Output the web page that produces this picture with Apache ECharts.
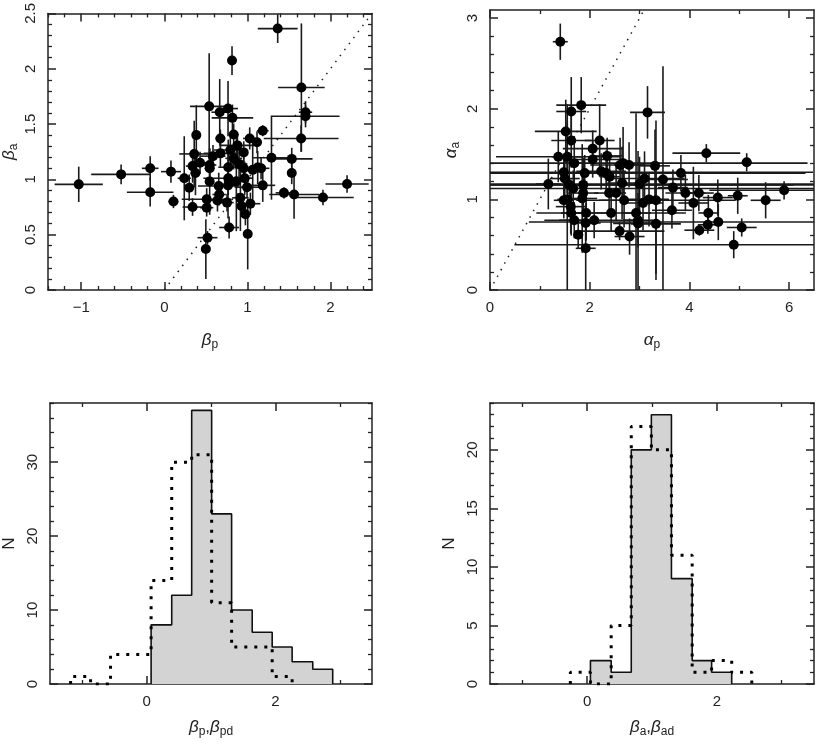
<!DOCTYPE html>
<html><head><meta charset="utf-8">
<script src="https://cdn.jsdelivr.net/npm/echarts@6/dist/echarts.min.js"></script>
<style>html,body{margin:0;padding:0;background:#fff}#c{width:817px;height:746px}</style>
</head><body><div id="c"></div>
<script>
// ---- Top-left: beta_p vs beta_a ----
const bpX = [-1.03,-0.52,-0.17,-0.17,0.08,0.11,0.24,0.30,0.34,0.385,
  0.36,0.34,0.375,0.43,0.54,0.546,0.546,0.546,0.586,0.51,
  0.51,0.52,0.50,0.667,0.675,0.675,0.655,0.66,0.64,0.767,
  0.82,0.795,0.77,0.77,0.767,0.755,0.78,0.815,0.835,0.835,
  0.88,0.867,0.9,0.956,0.956,0.968,0.996,0.916,0.928,0.976,
  1.004,1.028,1.036,1.064,1.116,1.124,1.165,1.185,1.185,1.29,
  1.365,1.44,1.534,1.534,1.562,1.65,1.647,1.70,1.70,1.91,2.20];
const bpY = [0.955,1.045,1.10,0.884,1.07,0.80,1.01,0.925,0.75,1.40,
  1.23,1.12,1.057,1.15,1.66,1.13,1.10,0.98,1.21,0.82,
  0.744,0.473,0.37,1.607,1.37,1.235,0.94,0.863,0.81,1.64,
  1.556,1.265,1.11,1.01,0.946,0.79,0.565,2.074,1.405,1.19,
  1.307,0.982,1.14,1.244,1.10,1.01,0.929,0.833,0.76,0.685,
  0.506,1.37,0.78,1.086,1.336,1.107,1.10,1.44,0.946,1.196,
  2.363,0.878,1.057,1.185,0.863,1.83,1.37,1.607,1.57,0.836,0.958];
const bpXerr = [.29,.36,.10,.28,.12,.06,.08,.06,.12,.05,
  .18,.08,.06,.10,.23,.08,.06,.05,.15,.30,
  .08,.12,.04,.10,.06,.20,.25,.08,.10,.12,
  .25,.20,.12,.30,.10,.08,.12,.05,.06,.10,
  .20,.15,.10,.05,.10,.08,.15,.10,.06,.06,
  .03,.08,.12,.15,.05,.10,.10,.07,.15,.22,
  .24,.10,.04,.25,.30,.28,.45,.08,.41,.37,.26];
const bpYerr = [.16,.09,.11,.13,.10,.06,.38,.12,.08,.27,
  .30,.15,.20,.10,.48,.15,.08,.30,.10,.10,
  .08,.06,.27,.30,.08,.12,.12,.10,.10,.25,
  .12,.15,.25,.10,.30,.08,.10,.13,.10,.10,
  .10,.45,.15,.10,.10,.15,.10,.30,.10,.10,
  .32,.10,.10,.30,.10,.15,.10,.05,.15,.38,
  .13,.05,.10,.10,.22,.58,.12,.10,.10,.07,.08];

// ---- Top-right: alpha_p vs alpha_a ----
const apX = [1.41,1.17,1.37,1.52,1.63,1.83,1.63,1.55,1.69,1.48,
  1.50,1.59,1.67,1.48,1.55,1.62,1.63,1.69,1.77,1.92,
  1.90,1.87,1.87,1.85,1.93,1.92,2.09,2.06,2.06,2.20,
  2.23,2.35,2.33,2.40,2.39,2.43,2.53,2.61,2.67,2.65,
  2.69,2.60,2.79,2.80,3.00,3.07,3.10,2.93,2.97,2.97,
  3.16,3.19,3.31,3.33,3.33,3.47,3.67,3.65,3.83,3.92,
  4.08,4.19,4.20,4.34,4.38,4.37,4.57,4.58,4.89,4.97,
  5.05,5.15,5.53,5.90];
const apY = [2.74,1.17,1.47,1.75,1.97,2.04,1.65,1.47,1.40,1.30,
  1.23,1.16,1.12,0.99,1.00,0.92,0.85,0.77,0.61,0.46,
  1.29,1.16,1.07,1.01,0.85,0.74,0.77,1.56,1.44,1.65,
  1.31,1.48,1.29,1.25,1.07,0.85,1.07,1.38,1.40,1.18,
  0.99,0.65,1.38,0.59,1.17,0.96,1.23,0.85,0.77,0.735,
  1.96,1.00,1.37,0.99,0.73,1.22,1.13,0.88,1.29,1.07,
  0.96,1.07,0.66,1.51,0.85,0.72,1.02,0.75,0.50,1.04,
  0.69,1.41,0.99,1.10];
const apXerr = [.15,.25,1.25,.62,.30,.50,.40,.30,.20,5.0,
  .30,4.5,5.0,.20,.20,.30,.20,.30,.10,.20,
  .30,5.0,.30,.30,.50,.30,1.0,.60,.60,.30,
  .50,.30,4.0,.20,.30,1.5,.20,.60,3.7,.30,
  .50,.90,.30,.30,3.5,.40,.80,.30,.30,.50,
  .35,.40,.30,1.6,.50,.50,.30,.40,.30,.40,
  .30,.30,.30,.68,.20,.20,.30,3.8,4.4,.20,
  .30,.10,.30,1.5];
const apYerr = [.20,.28,.28,.35,.38,.31,.30,.40,.30,.20,
  .20,.30,.20,.20,1.05,.30,.25,.20,.15,.50,
  .20,.30,.20,.60,.30,.20,.20,.20,.20,.40,
  .20,.20,.25,.20,.20,.20,.30,.30,.40,.40,
  .30,.10,.25,.20,.30,.30,.30,1.1,.30,.80,
  .29,.30,.40,.88,.55,1.25,.20,.20,.20,.20,
  .40,.20,.06,.10,.20,.10,.20,.20,.15,.20,
  .10,.10,.20,.10];

// ---- Histograms ----
const bpEdges  = [-1.18,-0.87,-0.56,-0.24,0.07,0.39,0.70,1.01,1.32,1.64,1.95,2.26,2.58,2.89];
const bpCounts = [0,0,0,0,8,12,37,23,10,7,5,3,2];
const bpdCounts= [1,0,4,4,14,30,31,11,5,5,1,0,0];
const baEdges  = [-0.26,0.05,0.37,0.68,0.99,1.30,1.62,1.92,2.23,2.54];
const baCounts = [0,2,1,20,23,9,2,1,0];
const badCounts= [1,0,5,22,20,11,1,2,1];

// ---- Axis ticks ----
const tlXTicks = [-1,0,1,2], tlYTicks = [0,0.5,1,1.5,2,2.5];
const trXTicks = [0,2,4,6], trYTicks = [0,1,2,3];
const blXTicks = [0,2], blYTicks = [0,10,20,30];
const brXTicks = [0,2], brYTicks = [0,5,10,15,20];
const diagTL = [0,2.5], diagTR = [0,3.09];

function range(a,b,s){const r=[];for(let i=0;a+i*s<=b+1e-9;i++){r.push(+(a+i*s).toFixed(4));}return r;}
function minorOf(all, majors){return all.filter(v=>!majors.some(m=>Math.abs(m-v)<1e-6));}

const FONT = 'Liberation Sans, Arial, sans-serif';
const AX = '#222';
const xAxes = [], yAxes = [];
function fmt(v){ return v<0 ? '\u2212'+Math.abs(v) : String(v); }
const rich = {
  g:{fontSize:17, fontStyle:'italic', fontFamily:FONT, color:'#222'},
  s:{fontSize:12, fontFamily:FONT, color:'#222', padding:[9,0,0,0]},
  n:{fontSize:17, fontFamily:FONT, color:'#222'}
};
function addAxes(list, g, pos, min, max, majors, minors, name, nameGap){
  const opp = {bottom:'top', top:'bottom', left:'right', right:'left'}[pos];
  const base = {type:'value', gridIndex:g, min:min, max:max, splitLine:{show:false}};
  const line = {show:true, onZero:false, lineStyle:{color:AX, width:1.5}};
  const noLine = {show:false, onZero:false};
  const idx = list.length;
  list.push(Object.assign({}, base, {position:pos, axisLine:line,
    axisTick:{show:true, inside:true, length:8, customValues:majors, lineStyle:{color:AX, width:1.5}},
    axisLabel:{show:true, customValues:majors, formatter:fmt, rotate:(pos==='left'?90:0), margin:10, color:'#222', fontSize:15, fontFamily:FONT}}));
  list.push(Object.assign({}, base, {position:pos, axisLine:noLine,
    axisTick:{show:true, inside:true, length:4, customValues:minors, lineStyle:{color:AX, width:1.3}},
    axisLabel:{show:false}}));
  list.push(Object.assign({}, base, {position:opp, axisLine:line,
    axisTick:{show:true, inside:true, length:8, customValues:majors, lineStyle:{color:AX, width:1.5}},
    axisLabel:{show:false}}));
  list.push(Object.assign({}, base, {position:opp, axisLine:noLine,
    axisTick:{show:true, inside:true, length:4, customValues:minors, lineStyle:{color:AX, width:1.3}},
    axisLabel:{show:false}}));
  // name-only axis
  list.push(Object.assign({}, base, {position:pos, axisLine:noLine, axisTick:{show:false}, axisLabel:{show:false},
    name:name, nameLocation:'middle', nameGap:nameGap, nameRotate:(pos==='left'?90:0),
    nameTextStyle:{rich:rich, fontSize:17, fontFamily:FONT, color:'#222'}}));
  return idx;
}

const grids = [
  {left:48, top:10, width:324, height:280},
  {left:490, top:10, width:324, height:280},
  {left:48, top:403, width:324, height:281},
  {left:490, top:403, width:324, height:281}
];

const x0 = addAxes(xAxes,0,'bottom',-1.4,2.5,tlXTicks,minorOf(range(-1.4,2.5,0.2),tlXTicks),'{g|β}{s|p}',40);
const y0 = addAxes(yAxes,0,'left',0,2.5,tlYTicks,minorOf(range(0,2.5,0.1),tlYTicks),'{g|β}{s|a}',28);
const x1 = addAxes(xAxes,1,'bottom',0,6.5,trXTicks,minorOf(range(0,6.5,1),trXTicks),'{g|α}{s|p}',40);
const y1 = addAxes(yAxes,1,'left',0,3.09,trYTicks,minorOf(range(0,3.09,0.2),trYTicks),'{g|α}{s|a}',28);
const x2 = addAxes(xAxes,2,'bottom',-1.5,3.5,blXTicks,minorOf(range(-1,3,1),blXTicks),'{g|β}{s|p}{n|,}{g|β}{s|pd}',33);
const y2 = addAxes(yAxes,2,'left',0,38,blYTicks,minorOf(range(0,38,2),blYTicks),'N',32);
const x3 = addAxes(xAxes,3,'bottom',-1.5,3.5,brXTicks,minorOf(range(-1,3,1),brXTicks),'{g|β}{s|a}{n|,}{g|β}{s|ad}',33);
const y3 = addAxes(yAxes,3,'left',0,24,brYTicks,minorOf(range(0,24,1),brYTicks),'N',32);

function errSeries(xi, yi, xs, ys, xe, ye, xr, yr){
  const clampX = v => Math.max(xr[0], Math.min(xr[1], v));
  const clampY = v => Math.max(yr[0], Math.min(yr[1], v));
  return {type:'custom', xAxisIndex:xi, yAxisIndex:yi, silent:true, z:2,
    data: xs.map((v,i)=>[v, ys[i], xe[i], ye[i]]),
    encode:{x:0, y:1},
    renderItem: function(params, api){
      const x = api.value(0), y = api.value(1), ex = api.value(2), ey = api.value(3);
      const a = api.coord([clampX(x-ex), y]), b = api.coord([clampX(x+ex), y]);
      const c = api.coord([x, clampY(y-ey)]), d = api.coord([x, clampY(y+ey)]);
      const st = {stroke:'#1a1a1a', lineWidth:1.6};
      return {type:'group', children:[
        {type:'line', shape:{x1:a[0],y1:a[1],x2:b[0],y2:b[1]}, style:st},
        {type:'line', shape:{x1:c[0],y1:c[1],x2:d[0],y2:d[1]}, style:st}]};
    }};
}
function ptSeries(xi, yi, xs, ys){
  return {type:'scatter', xAxisIndex:xi, yAxisIndex:yi, symbol:'circle', symbolSize:10, z:3, silent:true,
    itemStyle:{color:'#000', opacity:1}, data: xs.map((v,i)=>[v, ys[i]])};
}
function diagSeries(xi, yi, d){
  return {type:'line', xAxisIndex:xi, yAxisIndex:yi, symbol:'none', silent:true, z:1,
    lineStyle:{color:'#222', width:1.5, type:[1.5,6]}, data: d.map(v=>[v,v])};
}
function stepPts(edges, counts){
  let s = 0, e = counts.length-1;
  while (s<e && counts[s]===0) s++;
  while (e>s && counts[e]===0) e--;
  const p = [[edges[s],0]];
  for (let i=s;i<=e;i++){ p.push([edges[i],counts[i]]); p.push([edges[i+1],counts[i]]); }
  p.push([edges[e+1],0]);
  return p;
}
function histSolid(xi, yi, edges, counts){
  return {type:'line', xAxisIndex:xi, yAxisIndex:yi, symbol:'none', silent:true, z:2,
    lineStyle:{color:'#111', width:1.6}, areaStyle:{color:'#d3d3d3', opacity:1},
    data: stepPts(edges, counts)};
}
function histDotted(xi, yi, edges, counts){
  return {type:'line', xAxisIndex:xi, yAxisIndex:yi, symbol:'none', silent:true, z:4,
    lineStyle:{color:'#000', width:3, type:[3,7], cap:'butt'},
    data: stepPts(edges, counts)};
}

const chart = echarts.init(document.getElementById('c'), null, {renderer:'canvas'});
chart.setOption({
  animation:false,
  backgroundColor:'#fff',
  grid: grids,
  xAxis: xAxes,
  yAxis: yAxes,
  series: [
    diagSeries(x0,y0,diagTL),
    errSeries(x0,y0,bpX,bpY,bpXerr,bpYerr,[-1.4,2.5],[0,2.5]),
    ptSeries(x0,y0,bpX,bpY),
    diagSeries(x1,y1,diagTR),
    errSeries(x1,y1,apX,apY,apXerr,apYerr,[0,6.5],[0,3.09]),
    ptSeries(x1,y1,apX,apY),
    histSolid(x2,y2,bpEdges,bpCounts),
    histDotted(x2,y2,bpEdges,bpdCounts),
    histSolid(x3,y3,baEdges,baCounts),
    histDotted(x3,y3,baEdges,badCounts)
  ]
});
</script>
</body></html>
